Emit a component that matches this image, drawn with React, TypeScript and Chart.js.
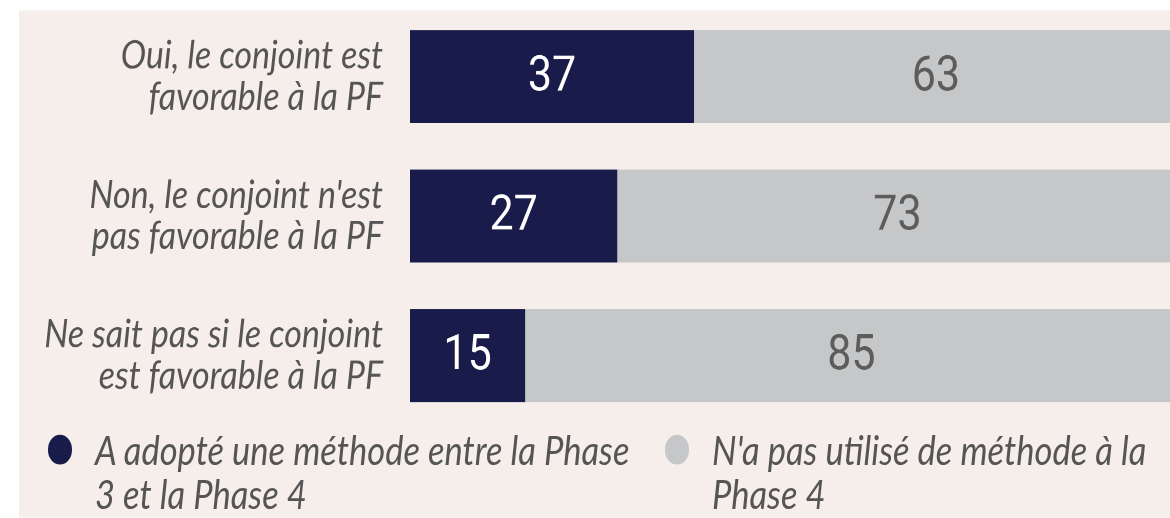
import React, { useEffect, useRef } from "react";
import { Chart, registerables } from "chart.js";

Chart.register(...registerables);

const categories: string[][] = [
  ["Oui, le conjoint est", "favorable à la PF"],
  ["Non, le conjoint n'est", "pas favorable à la PF"],
  ["Ne sait pas si le conjoint", "est favorable à la PF"],
];
const adopted = [37, 27, 15];
const notUsed = [63, 73, 85];
const seriesNames = [
  "A adopté une méthode entre la Phase\n3 et la Phase 4",
  "N'a pas utilisé de méthode à la\nPhase 4",
];
const seriesColors = ["#191b4b", "#c6c7c9"];
const valueColors = ["#ffffff", "#5c5c5c"];

const SY = 1.15;
const W = 1170;
const H = 518 / SY;
const CANVAS_H = 374;
const AREA_TOP = 76.5 / SY - (139.5 / SY) / 2;
const AREA_BOTTOM = AREA_TOP + (139.5 * 3) / SY;

const valueLabels = {
  id: "valueLabels",
  afterDatasetsDraw(chart: any) {
    const ctx = chart.ctx;
    ctx.save();
    ctx.font = "43px Roboto";
    ctx.textAlign = "center";
    ctx.textBaseline = "middle";
    chart.data.datasets.forEach((ds: any, di: number) => {
      const meta = chart.getDatasetMeta(di);
      meta.data.forEach((bar: any, i: number) => {
        const cx = (bar.x + bar.base) / 2;
        ctx.fillStyle = valueColors[di];
        ctx.fillText(String(ds.data[i]), cx, bar.y + 1);
      });
    });
    ctx.restore();
  },
};

export default function App() {
  const ref = useRef<HTMLCanvasElement | null>(null);
  useEffect(() => {
    if (!ref.current) return;
    const chart = new Chart(ref.current, {
      type: "bar",
      data: {
        labels: categories,
        datasets: [
          {
            label: seriesNames[0],
            data: adopted,
            backgroundColor: seriesColors[0],
            barPercentage: 0.667,
            categoryPercentage: 1,
          },
          {
            label: seriesNames[1],
            data: notUsed,
            backgroundColor: seriesColors[1],
            barPercentage: 0.667,
            categoryPercentage: 1,
          },
        ],
      },
      options: {
        indexAxis: "y",
        responsive: false,
        animation: false,
        devicePixelRatio: 2,
        layout: {
          padding: { top: AREA_TOP, bottom: CANVAS_H - AREA_BOTTOM, left: 0, right: 0 },
        },
        plugins: {
          legend: { display: false },
          tooltip: { enabled: false },
        },
        scales: {
          x: { stacked: true, min: 0, max: 99, display: false },
          y: {
            stacked: true,
            grid: { display: false, drawTicks: false },
            border: { display: false },
            afterFit: (s: any) => {
              s.width = 410;
              s.paddingTop = 0;
              s.paddingBottom = 0;
            },
            ticks: {
              padding: 27,
              color: "#555555",
              font: { family: "Lato", style: "italic", size: 34, lineHeight: 1.05 },
            },
          },
        },
      },
      plugins: [valueLabels],
    } as any);
    return () => chart.destroy();
  }, []);

  const cy = 449 / SY;
  const lh = 45 / SY;
  const legendItem = (i: number, circleX: number, textX: number) => (
    <React.Fragment key={i}>
      <div
        style={{
          position: "absolute",
          left: circleX - 12.25,
          top: 450 / SY - 30 / SY / 2,
          width: 24.5,
          height: 30 / SY,
          borderRadius: "50%",
          background: seriesColors[i],
        }}
      />
      <div
        style={{
          position: "absolute",
          left: textX,
          top: cy - lh / 2,
          whiteSpace: "pre",
          fontFamily: "Lato",
          fontStyle: "italic",
          fontSize: 34.5,
          lineHeight: `${lh}px`,
          color: "#555555",
        }}
      >
        {seriesNames[i]}
      </div>
    </React.Fragment>
  );

  return (
    <div
      style={{
        position: "fixed",
        left: 0,
        top: 0,
        width: W,
        height: 518,
        background: "#ffffff",
        overflow: "hidden",
      }}
    >
      <div
        style={{
          position: "absolute",
          left: 0,
          top: 0,
          width: W,
          height: H,
          transform: `scaleY(${SY})`,
          transformOrigin: "0 0",
        }}
      >
        <div
          style={{
            position: "absolute",
            left: 19,
            top: 10 / SY,
            right: 0,
            bottom: 0,
            background: "#f5eeeb",
          }}
        />
        <canvas
          ref={ref}
          width={W}
          height={CANVAS_H}
          style={{ position: "absolute", left: 0, top: 0 }}
        />
        {legendItem(0, 60, 95)}
        {legendItem(1, 677, 712)}
      </div>
    </div>
  );
}
